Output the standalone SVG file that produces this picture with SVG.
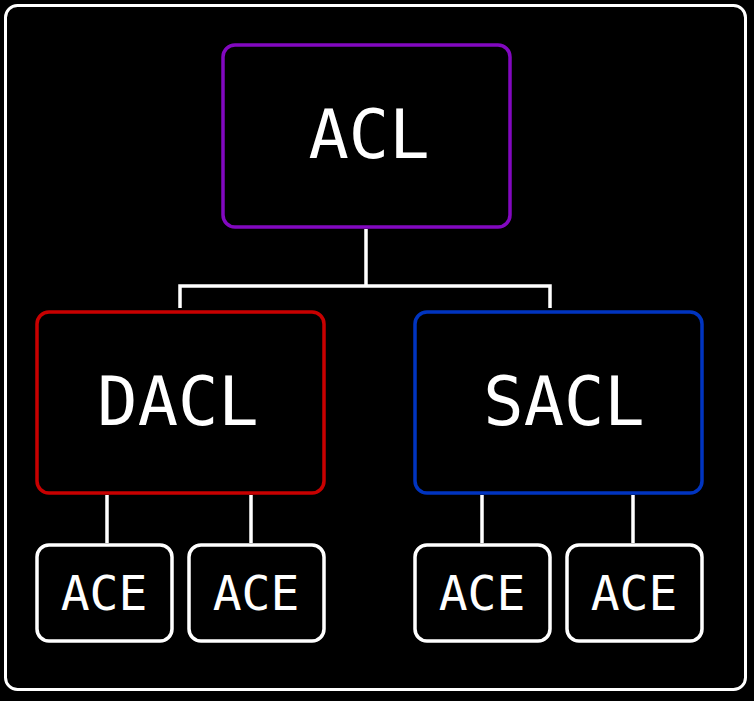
<svg xmlns="http://www.w3.org/2000/svg" width="754" height="701" viewBox="0 0 754 701">
<style>
.box{fill:#000;stroke-width:3.5}
.ace{fill:#000;stroke:#fff;stroke-width:3.5}
.conn{fill:none;stroke:#fff;stroke-width:3.5}
text{font-family:"DejaVu Sans Mono","Liberation Mono",monospace;fill:#fff;text-anchor:middle}
.big{font-size:67px}
.small{font-size:48px}
</style>
<rect x="0" y="0" width="754" height="701" fill="#000"/>
<rect x="5.5" y="5.5" width="740" height="684" rx="12" fill="#000" stroke="#fff" stroke-width="3"/>
<g id="connectors">
<path class="conn" d="M366 229V286M180 308V286H550V308"/>
<path class="conn" d="M107 495V543M251 495V543M482 495V543M633 495V543"/>
</g>
<g id="acl">
<rect class="box" x="223" y="45" width="287" height="182" rx="12" stroke="#8208C0"/>
<text class="big" x="369" y="158">ACL</text>
</g>
<g id="dacl">
<rect class="box" x="37" y="312" width="287" height="181" rx="12" stroke="#C80000"/>
<text class="big" x="178" y="425">DACL</text>
</g>
<g id="sacl">
<rect class="box" x="415" y="312" width="287" height="181" rx="12" stroke="#0034C0"/>
<text class="big" x="564" y="425">SACL</text>
</g>
<g id="ace1">
<rect class="ace" x="37" y="545" width="135" height="96" rx="12"/>
<text class="small" x="104" y="610">ACE</text>
</g>
<g id="ace2">
<rect class="ace" x="189" y="545" width="135" height="96" rx="12"/>
<text class="small" x="256" y="610">ACE</text>
</g>
<g id="ace3">
<rect class="ace" x="415" y="545" width="135" height="96" rx="12"/>
<text class="small" x="482" y="610">ACE</text>
</g>
<g id="ace4">
<rect class="ace" x="567" y="545" width="135" height="96" rx="12"/>
<text class="small" x="634" y="610">ACE</text>
</g>
</svg>
